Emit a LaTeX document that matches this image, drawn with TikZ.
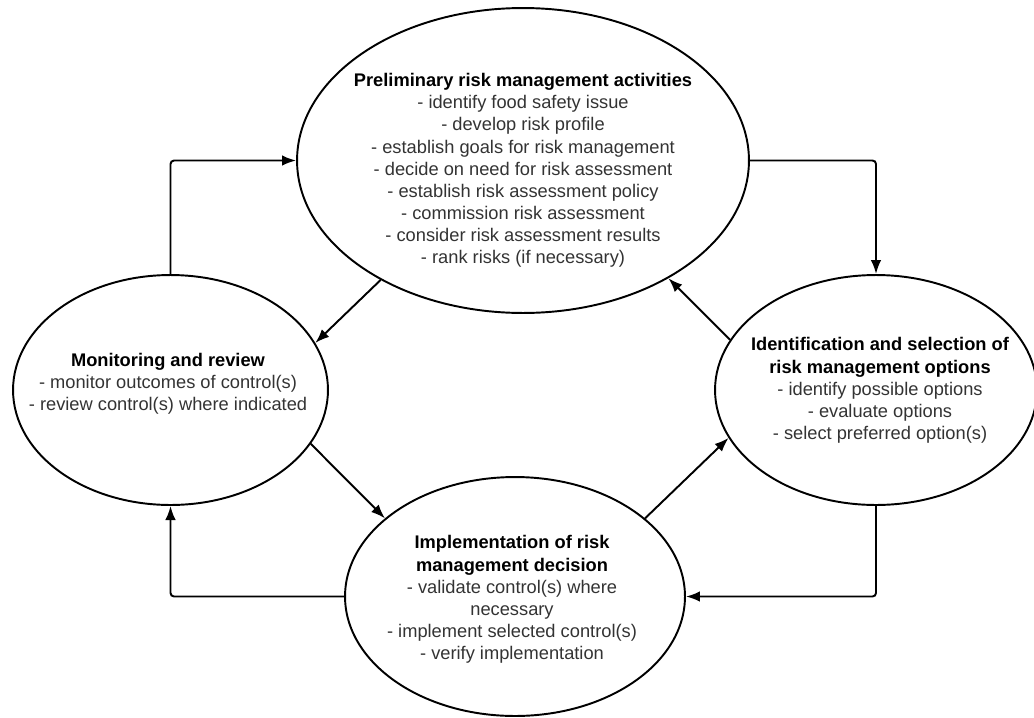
\documentclass[tikz,border=0pt]{standalone}
\usepackage{fontspec}
\setmainfont{Liberation Sans}
\usepackage{xcolor}
\usetikzlibrary{arrows.meta,shapes.geometric}
\definecolor{bodytxt}{HTML}{333333}
\newcommand{\hd}[1]{\textcolor{black}{\textbf{#1}}}

\begin{document}
\begin{tikzpicture}[x=.02cm,y=-.02cm,>={Latex[length=8pt,width=6pt]},line width=1.1pt,
 blob/.style={draw,ellipse,inner sep=0pt},
 txt/.style={align=center,text=bodytxt,font=\fontsize{10.4}{12.6}\selectfont}]
 \useasboundingbox (0,0) rectangle (1034,717);
 \node[blob,minimum width=9.04cm,minimum height=6.1cm] (prm) at (523,160.5) {};
 \node[blob,minimum width=6.3cm,minimum height=4.6cm] (mon) at (170.5,390) {};
 \node[blob,minimum width=6.44cm,minimum height=4.6cm] (sel) at (876,390) {};
 \node[blob,minimum width=6.8cm,minimum height=4.78cm] (imp) at (515,596.5) {};
 \node[txt] (prmtxt) at (523,170.5) {\hd{Preliminary risk management activities}\\- identify food safety issue\\- develop risk profile\\- establish goals for risk management\\- decide on need for risk assessment\\- establish risk assessment policy\\- commission risk assessment\\- consider risk assessment results\\- rank risks (if necessary)};
 \node[txt] (montxt) at (168,384) {\hd{Monitoring and review}\\- monitor outcomes of control(s)\\- review control(s) where indicated};
 \node[txt] (seltxt) at (880,390.5) {\hd{Identification and selection of}\\\hd{risk management options}\\- identify possible options\\- evaluate options\\- select preferred option(s)};
 \node[txt] (imptxt) at (512,599.5) {\hd{Implementation of risk}\\\hd{management decision}\\- validate control(s) where\\necessary\\- implement selected control(s)\\- verify implementation};
 \draw[->,rounded corners=2pt] (mon.north) |- (prm.west);
 \draw[->,rounded corners=2pt] (prm.east) -| (sel.north);
 \draw[->,rounded corners=2pt] (sel.south) |- (imp.east);
 \draw[->,rounded corners=2pt] (imp.west) -| (mon.south);
 \draw[->] (prm.220)--(mon.18);
 \draw[->] (mon.-21)--(imp.149);
 \draw[->] (imp.31)--(sel.198);
 \draw[->] (sel.161)--(prm.-39);
\end{tikzpicture}
\end{document}
